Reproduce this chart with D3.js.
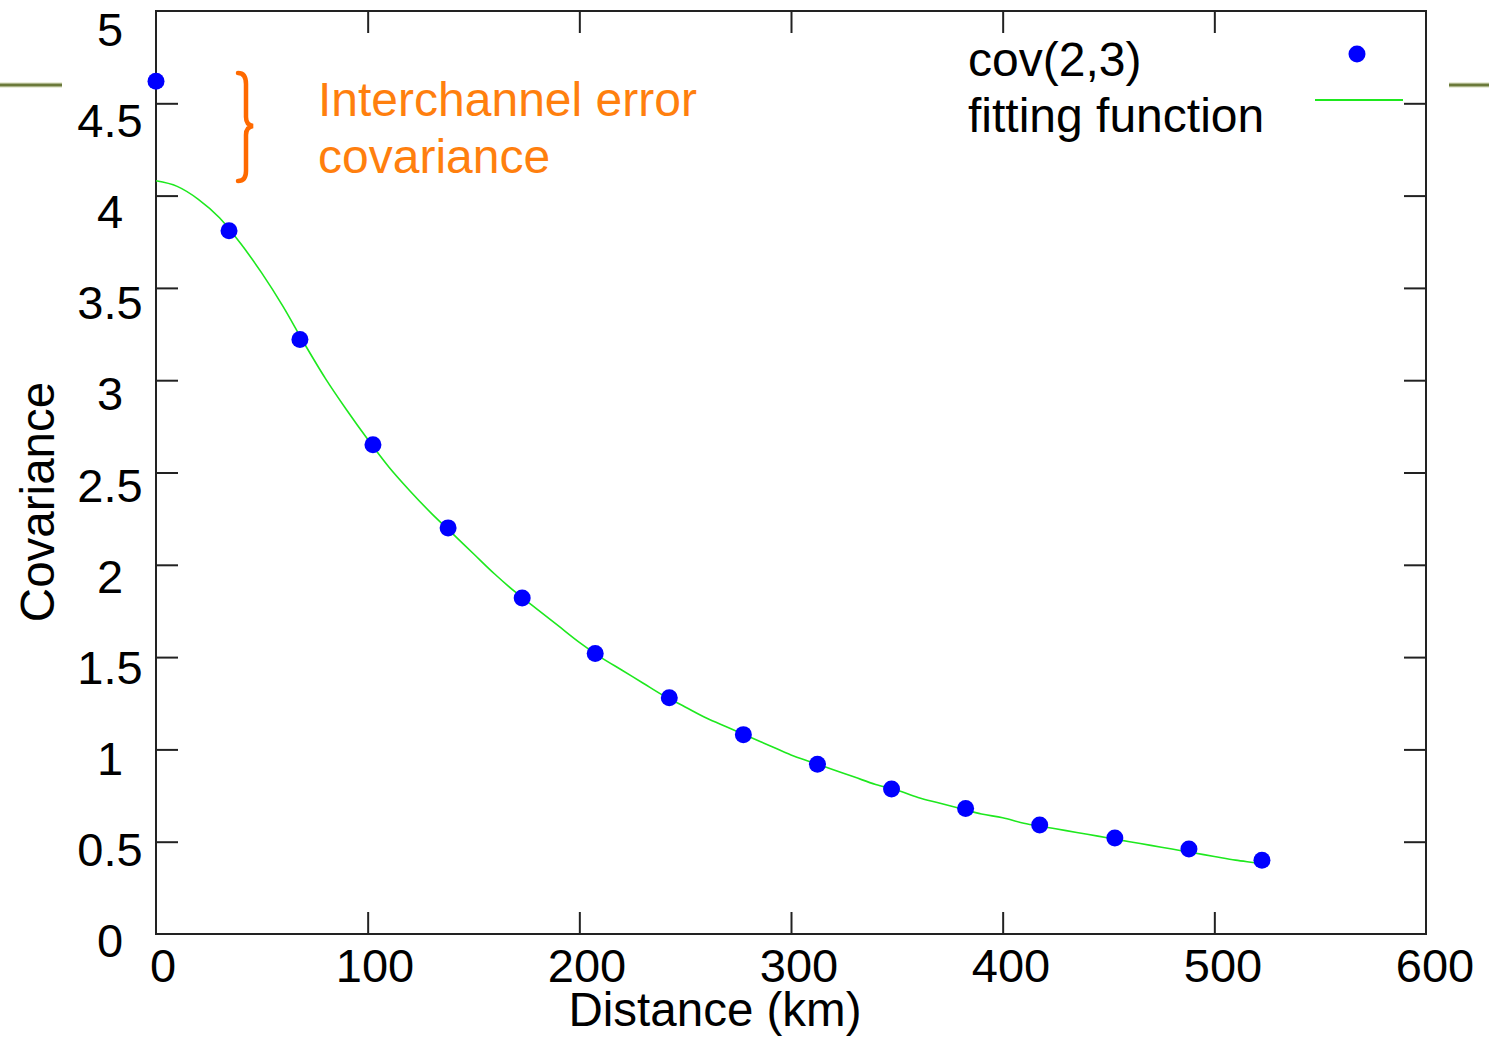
<!DOCTYPE html>
<html><head><meta charset="utf-8">
<script src="https://cdn.jsdelivr.net/npm/d3@7"></script>
<style>body{margin:0;background:#fff}svg{display:block}</style>
</head><body>
<script>
const distance = [0, 34.5, 68, 102.5, 138, 173, 207.5, 242.5, 277.5, 312.5, 347.5, 382.5, 417.5, 453, 488, 522.5];
const covariance = [4.62, 3.81, 3.22, 2.65, 2.20, 1.82, 1.52, 1.28, 1.08, 0.92, 0.785, 0.68, 0.59, 0.52, 0.46, 0.40];
const fitX = [0,10,20,30,40,50,60,70,80,90,100,110,120,130,140,150,160,170,180,190,200,210,220,230,240,250,260,270,280,290,300,310,320,330,340,350,360,370,380,390,400,410,420,430,440,450,460,470,480,490,500,510,520,523];
const fitY = [4.08,4.05,3.98,3.88,3.74,3.58,3.40,3.20,3.01,2.84,2.68,2.53,2.40,2.28,2.17,2.06,1.95,1.85,1.76,1.67,1.58,1.50,1.43,1.36,1.29,1.23,1.17,1.12,1.07,1.02,0.97,0.93,0.89,0.85,0.81,0.78,0.74,0.71,0.68,0.65,0.63,0.60,0.58,0.56,0.54,0.52,0.50,0.48,0.46,0.44,0.42,0.40,0.385,0.38];
const xTicks = [0,100,200,300,400,500,600];
const yTicks = [0,0.5,1,1.5,2,2.5,3,3.5,4,4.5,5];
const yTickLabels = ["0","0.5","1","1.5","2","2.5","3","3.5","4","4.5","5"];
const legendLabels = ["cov(2,3)", "fitting function"];
const annotation = ["Interchannel error", "covariance"];

const W = 1489, H = 1038;
const L = 156, R = 1426, T = 11, B = 934;
const font = "'Liberation Sans', Arial, sans-serif";
const svg = d3.select("body").append("svg").attr("width", W).attr("height", H);

const x = d3.scaleLinear().domain([0, 600]).range([L, R]);
const y = d3.scaleLinear().domain([0, 5]).range([B, T]);
const xLab = d3.scaleLinear().domain([0, 600]).range([163, 1435]);
const yLab = d3.scaleLinear().domain([0, 5]).range([940, 29]);

// olive slide decoration lines
svg.append("rect").attr("x", 0).attr("y", 82).attr("width", 62).attr("height", 6).attr("fill", "#e9ecd9");
svg.append("line").attr("x1", 0).attr("x2", 62).attr("y1", 85).attr("y2", 85).attr("stroke", "#6b7a3a").attr("stroke-width", 3);
svg.append("rect").attr("x", 1449).attr("y", 82).attr("width", 40).attr("height", 6).attr("fill", "#e9ecd9");
svg.append("line").attr("x1", 1449).attr("x2", 1489).attr("y1", 85).attr("y2", 85).attr("stroke", "#6b7a3a").attr("stroke-width", 3);

// frame
svg.append("rect").attr("x", L).attr("y", T).attr("width", R - L).attr("height", B - T)
  .attr("fill", "none").attr("stroke", "#222").attr("stroke-width", 2);

// ticks via axes (inward)
const tk = 22;
const axB = d3.axisBottom(x).tickValues(xTicks.slice(1, -1)).tickSize(-tk).tickFormat("");
const axT = d3.axisTop(x).tickValues(xTicks.slice(1, -1)).tickSize(-tk).tickFormat("");
const axL = d3.axisLeft(y).tickValues(yTicks.slice(1, -1)).tickSize(-tk).tickFormat("");
const axR = d3.axisRight(y).tickValues(yTicks.slice(1, -1)).tickSize(-tk).tickFormat("");
[[axB, `translate(0,${B})`], [axT, `translate(0,${T})`], [axL, `translate(${L},0)`], [axR, `translate(${R},0)`]].forEach(([a, t]) => {
  const g = svg.append("g").attr("transform", t).call(a);
  g.select(".domain").remove();
  g.selectAll("line").attr("stroke", "#222").attr("stroke-width", 2);
});

// tick labels
svg.append("g").selectAll("text").data(xTicks).join("text")
  .attr("x", d => xLab(d)).attr("y", 982).attr("text-anchor", "middle")
  .attr("font-family", font).attr("font-size", 47).attr("fill", "#000").text(d => d);
svg.append("g").selectAll("text").data(yTicks).join("text")
  .attr("x", 110).attr("y", d => yLab(d) + 17).attr("text-anchor", "middle")
  .attr("font-family", font).attr("font-size", 47).attr("fill", "#000").text((d, i) => yTickLabels[i]);

// axis titles
svg.append("text").attr("x", 715).attr("y", 1026).attr("text-anchor", "middle")
  .attr("font-family", font).attr("font-size", 47.5).text("Distance (km)");
svg.append("text").attr("transform", "translate(54,502) rotate(-90)").attr("text-anchor", "middle")
  .attr("font-family", font).attr("font-size", 47.5).text("Covariance");

// fitting curve
const line = d3.line().x(d => x(d[0])).y(d => y(d[1])).curve(d3.curveMonotoneX);
svg.append("path").datum(fitX.map((v, i) => [v, fitY[i]])).attr("d", line)
  .attr("fill", "none").attr("stroke", "#1ee81e").attr("stroke-width", 1.6);

// points
svg.append("g").selectAll("circle").data(distance).join("circle")
  .attr("cx", d => x(d)).attr("cy", (d, i) => y(covariance[i])).attr("r", 8.5).attr("fill", "#0000ff");

// legend
svg.append("text").attr("x", 968).attr("y", 76).attr("font-family", font).attr("font-size", 48).text(legendLabels[0]);
svg.append("text").attr("x", 968).attr("y", 132).attr("font-family", font).attr("font-size", 48).text(legendLabels[1]);
svg.append("circle").attr("cx", 1357).attr("cy", 54).attr("r", 8.5).attr("fill", "#0000ff");
svg.append("line").attr("x1", 1315).attr("x2", 1403).attr("y1", 100).attr("y2", 100).attr("stroke", "#1ee81e").attr("stroke-width", 2);

// annotation
svg.append("path")
  .attr("d", "M238,73 Q246,73 246,84 L246,117 Q246,125 253,126 Q246,127 246,135 L246,171 Q246,181 238,181")
  .attr("fill", "none").attr("stroke", "#ff6a00").attr("stroke-width", 4.5).attr("stroke-linecap", "round");
svg.append("text").attr("x", 318).attr("y", 116).attr("font-family", font).attr("font-size", 48).attr("fill", "#ff7f0e").text(annotation[0]);
svg.append("text").attr("x", 318).attr("y", 173).attr("font-family", font).attr("font-size", 48).attr("fill", "#ff7f0e").text(annotation[1]);
</script>
</body></html>
